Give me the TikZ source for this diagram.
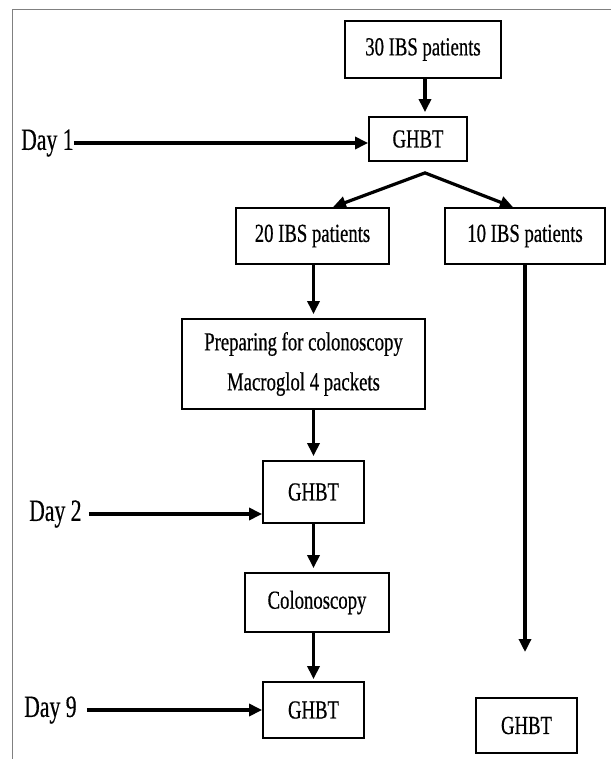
\documentclass[tikz,border=0pt]{standalone}
\usepackage{fontspec}
\setmainfont[FakeStretch=0.72,FakeBold=0.5]{Liberation Serif}
\newfontfamily\dayfont[FakeStretch=0.70,FakeBold=0.4]{Liberation Serif}
\usetikzlibrary{arrows.meta,calc}
\begin{document}
\begin{tikzpicture}[x=1pt,y=-1pt,
  box/.style={draw, line width=1.8pt, inner sep=0pt, font=\fontsize{26}{40}\selectfont, align=center},
  arr/.style={line width=3.2pt, -{Triangle[length=13pt,width=12pt]}, shorten >=4pt},
  daylbl/.style={anchor=west, inner sep=0pt, font=\dayfont\fontsize{31}{32}\selectfont},
  framestyle/.style={draw=black!50, line width=1pt}]
\useasboundingbox (0,0) rectangle (611,759);
\draw[framestyle] (12,759) -- (12,10) -- (611,10);

\node[box, minimum width=156pt, minimum height=57pt] (n30) at (423,49.5) {30 IBS patients};
\node[box, minimum width=98pt, minimum height=44pt] (g1) at (418,139) {GHBT};
\node[box, minimum width=153pt, minimum height=56pt] (n20) at (312.5,236) {20 IBS patients};
\node[box, minimum width=160pt, minimum height=56pt] (n10) at (525,236) {10 IBS patients};
\node[box, minimum width=243pt, minimum height=90pt] (prep) at (303.5,364) {Preparing for colonoscopy\\Macroglol 4 packets};
\node[box, minimum width=101pt, minimum height=62pt] (g2) at (313.5,492) {GHBT};
\node[box, minimum width=144pt, minimum height=59pt] (colo) at (317,602.5) {Colonoscopy};
\node[box, minimum width=101pt, minimum height=56pt] (g3) at (313.5,710) {GHBT};
\node[box, minimum width=101pt, minimum height=55pt] (g4) at (526.5,725.5) {GHBT};

\node[daylbl] (d1) at (21,143) {Day 1};
\node[daylbl] (d2) at (29,514) {Day 2};
\node[daylbl] (d9) at (24,710) {Day 9};

\coordinate (apex) at ([xshift=7pt,yshift=-11pt]g1.south);
\coordinate (e10) at (525,652);

\draw[arr] ([xshift=2pt]n30.south) -- ([xshift=2pt]n30.south |- g1.north);
\draw[arr, shorten >=0pt] (d1.east) -- (d1.east -| g1.west);
\draw[line width=3.2pt, {Triangle[length=13pt,width=12pt]}-{Triangle[length=13pt,width=12pt]}]
  ([xshift=20.5pt]n20.north) -- (apex) -- ([xshift=-12pt]n10.north);
\draw[arr] ([xshift=1pt]n20.south) -- ([xshift=1pt]n20.south |- prep.north);
\draw[arr] (prep.south -| g2.north) -- (g2.north);
\draw[arr, shorten >=0pt, shorten <=7pt] (d2.east) -- (d2.east -| g2.west);
\draw[arr] (g2.south) -- (g2.south |- colo.north);
\draw[arr, shorten >=2pt] (colo.south -| g3.north) -- (g3.north);
\draw[arr, shorten >=0pt, shorten <=10pt] (d9.east) -- (d9.east -| g3.west);
\draw[arr, shorten >=0pt] (n10.south) -- (e10);
\end{tikzpicture}
\end{document}
